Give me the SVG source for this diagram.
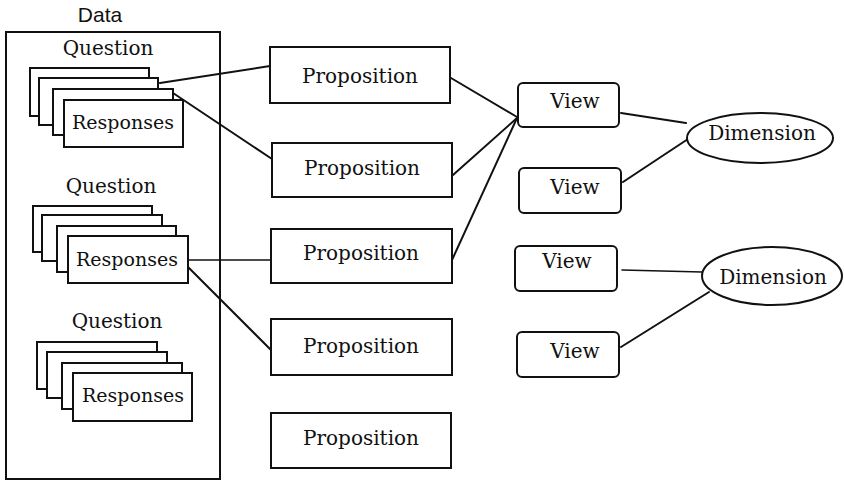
<svg xmlns="http://www.w3.org/2000/svg" width="844" height="481" viewBox="0 0 844 481">
<style>
.box{fill:#fff;stroke:#111;stroke-width:2}
.card{fill:#fff;stroke:#111;stroke-width:2}
.t{font-family:"DejaVu Serif","Liberation Serif",serif;font-size:20px;fill:#111;text-anchor:middle}
.r{font-size:19px}
.s{font-family:"Liberation Sans",Arial,sans-serif;font-size:21px;fill:#111;text-anchor:middle}
.ln{stroke:#111;stroke-width:2;fill:none;stroke-linecap:round}
</style>
<rect width="844" height="481" fill="#fff"/>
<g id="data">
<text class="s" x="100" y="22">Data</text>
<rect class="box" x="6" y="32" width="214" height="447" fill="none" style="fill:none"/>
</g>
<g id="group1">
<text class="t" x="108" y="55">Question</text>
<rect class="card" x="30" y="68" width="119" height="48"/>
<rect class="card" x="39" y="78" width="119" height="47"/>
<rect class="card" x="53" y="89" width="120" height="46"/>
<rect class="card" x="64" y="100" width="119" height="47"/>
<text class="t r" x="123" y="129">Responses</text>
</g>
<g id="group2">
<text class="t" x="111" y="193">Question</text>
<rect class="card" x="33" y="206" width="119" height="46"/>
<rect class="card" x="42" y="215" width="120" height="46"/>
<rect class="card" x="57" y="226" width="119" height="46"/>
<rect class="card" x="68" y="236" width="120" height="47"/>
<text class="t r" x="127" y="266">Responses</text>
</g>
<g id="group3">
<text class="t" x="117" y="328">Question</text>
<rect class="card" x="37" y="342" width="120" height="47"/>
<rect class="card" x="47" y="352" width="120" height="46"/>
<rect class="card" x="62" y="363" width="120" height="46"/>
<rect class="card" x="73" y="373" width="119" height="48"/>
<text class="t r" x="133" y="402">Responses</text>
</g>
<g id="connectors">
<line class="ln" x1="160" y1="83" x2="270" y2="66"/>
<line class="ln" x1="173" y1="93" x2="272" y2="159"/>
<line class="ln" x1="188" y1="260" x2="271" y2="260" style="stroke-width:1.6"/>
<line class="ln" x1="188" y1="267" x2="271" y2="350"/>
<line class="ln" x1="451" y1="78" x2="517" y2="117"/>
<line class="ln" x1="453" y1="175" x2="517" y2="118"/>
<line class="ln" x1="452" y1="260" x2="517" y2="118"/>
<line class="ln" x1="621" y1="113" x2="686" y2="123"/>
<line class="ln" x1="623" y1="182" x2="688" y2="139"/>
<line class="ln" x1="622" y1="270" x2="702" y2="272" style="stroke-width:1.6"/>
<line class="ln" x1="621" y1="347" x2="709" y2="292"/>
</g>
<g id="prop1"><rect class="box" x="270" y="47" width="180" height="56"/><text class="t" x="360" y="83">Proposition</text></g>
<g id="prop2"><rect class="box" x="272" y="143" width="180" height="54"/><text class="t" x="362" y="175">Proposition</text></g>
<g id="prop3"><rect class="box" x="271" y="229" width="181" height="54"/><text class="t" x="361" y="260">Proposition</text></g>
<g id="prop4"><rect class="box" x="271" y="319" width="181" height="56"/><text class="t" x="361" y="353">Proposition</text></g>
<g id="prop5"><rect class="box" x="271" y="413" width="180" height="55"/><text class="t" x="361" y="445">Proposition</text></g>
<g id="view1"><rect class="box" x="518" y="83" width="101" height="44" rx="5"/><text class="t" x="575" y="108">View</text></g>
<g id="view2"><rect class="box" x="519" y="168" width="102" height="45" rx="5"/><text class="t" x="575" y="194">View</text></g>
<g id="view3"><rect class="box" x="515" y="246" width="102" height="45" rx="5"/><text class="t" x="567" y="268">View</text></g>
<g id="view4"><rect class="box" x="517" y="332" width="102" height="45" rx="5"/><text class="t" x="575" y="358">View</text></g>
<g id="dim1"><ellipse class="box" cx="760" cy="138" rx="73" ry="25"/><text class="t" x="762" y="140">Dimension</text></g>
<g id="dim2"><ellipse class="box" cx="772" cy="276" rx="70" ry="29"/><text class="t" x="773" y="284">Dimension</text></g>
</svg>
